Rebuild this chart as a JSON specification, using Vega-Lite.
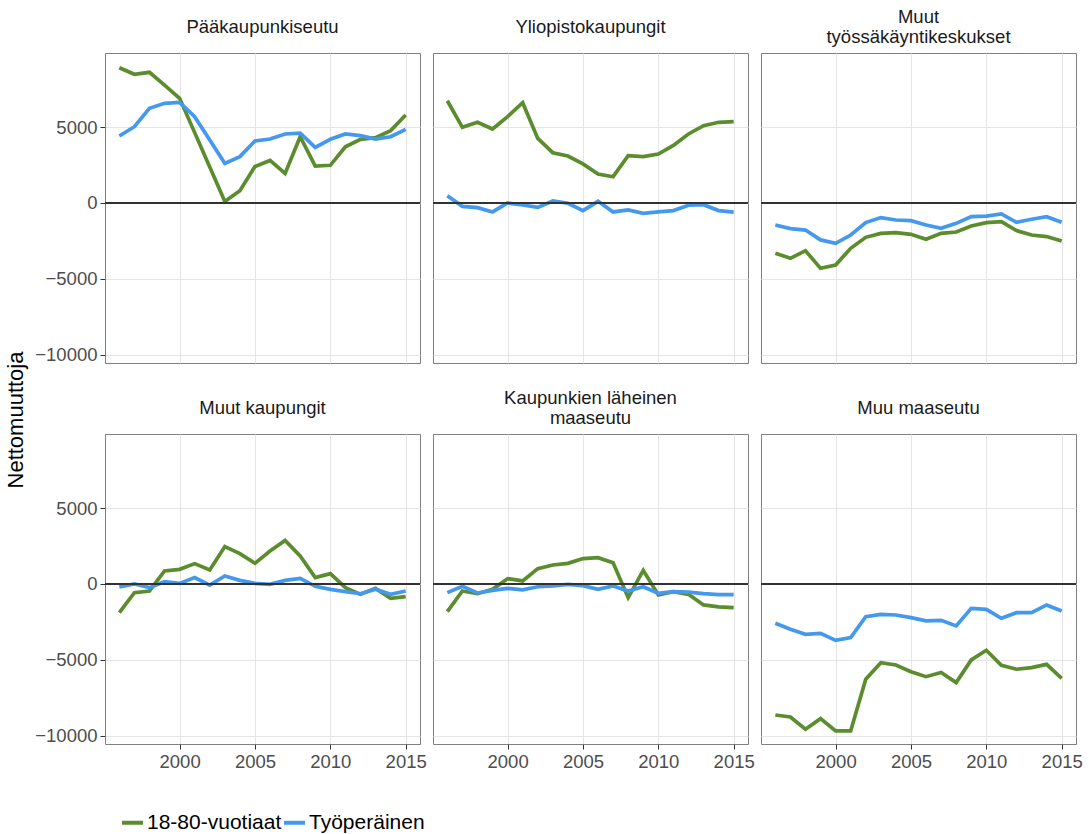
{
  "$schema": "https://vega.github.io/schema/vega-lite/v6.json",
  "background": "white",
  "padding": {"left": 5, "top": 7, "right": 5, "bottom": 5},
  "bounds": "flush",
  "title": {"text": "Nettomuuttoja", "orient": "left", "anchor": "middle", "fontSize": 22, "fontWeight": "normal", "font": "Liberation Sans", "color": "#000000", "offset": 6},
  "data": {"values": [
    {"alue": "Pääkaupunkiseutu", "vuosi": 1996, "18-80-vuotiaat": 8900, "Työperäinen": 4410},
    {"alue": "Pääkaupunkiseutu", "vuosi": 1997, "18-80-vuotiaat": 8470, "Työperäinen": 5020},
    {"alue": "Pääkaupunkiseutu", "vuosi": 1998, "18-80-vuotiaat": 8600, "Työperäinen": 6230},
    {"alue": "Pääkaupunkiseutu", "vuosi": 1999, "18-80-vuotiaat": 7760, "Työperäinen": 6560},
    {"alue": "Pääkaupunkiseutu", "vuosi": 2000, "18-80-vuotiaat": 6890, "Työperäinen": 6620},
    {"alue": "Pääkaupunkiseutu", "vuosi": 2001, "18-80-vuotiaat": 4630, "Työperäinen": 5680},
    {"alue": "Pääkaupunkiseutu", "vuosi": 2002, "18-80-vuotiaat": 2370, "Työperäinen": 4140},
    {"alue": "Pääkaupunkiseutu", "vuosi": 2003, "18-80-vuotiaat": 100, "Työperäinen": 2610},
    {"alue": "Pääkaupunkiseutu", "vuosi": 2004, "18-80-vuotiaat": 800, "Työperäinen": 3050},
    {"alue": "Pääkaupunkiseutu", "vuosi": 2005, "18-80-vuotiaat": 2400, "Työperäinen": 4080},
    {"alue": "Pääkaupunkiseutu", "vuosi": 2006, "18-80-vuotiaat": 2800, "Työperäinen": 4210},
    {"alue": "Pääkaupunkiseutu", "vuosi": 2007, "18-80-vuotiaat": 1950, "Työperäinen": 4540},
    {"alue": "Pääkaupunkiseutu", "vuosi": 2008, "18-80-vuotiaat": 4360, "Työperäinen": 4600},
    {"alue": "Pääkaupunkiseutu", "vuosi": 2009, "18-80-vuotiaat": 2430, "Työperäinen": 3660},
    {"alue": "Pääkaupunkiseutu", "vuosi": 2010, "18-80-vuotiaat": 2480, "Työperäinen": 4190},
    {"alue": "Pääkaupunkiseutu", "vuosi": 2011, "18-80-vuotiaat": 3700, "Työperäinen": 4540},
    {"alue": "Pääkaupunkiseutu", "vuosi": 2012, "18-80-vuotiaat": 4190, "Työperäinen": 4430},
    {"alue": "Pääkaupunkiseutu", "vuosi": 2013, "18-80-vuotiaat": 4300, "Työperäinen": 4210},
    {"alue": "Pääkaupunkiseutu", "vuosi": 2014, "18-80-vuotiaat": 4760, "Työperäinen": 4360},
    {"alue": "Pääkaupunkiseutu", "vuosi": 2015, "18-80-vuotiaat": 5790, "Työperäinen": 4850},
    {"alue": "Yliopistokaupungit", "vuosi": 1996, "18-80-vuotiaat": 6730, "Työperäinen": 480},
    {"alue": "Yliopistokaupungit", "vuosi": 1997, "18-80-vuotiaat": 4980, "Työperäinen": -220},
    {"alue": "Yliopistokaupungit", "vuosi": 1998, "18-80-vuotiaat": 5310, "Työperäinen": -310},
    {"alue": "Yliopistokaupungit", "vuosi": 1999, "18-80-vuotiaat": 4870, "Työperäinen": -590},
    {"alue": "Yliopistokaupungit", "vuosi": 2000, "18-80-vuotiaat": 5680, "Työperäinen": 0},
    {"alue": "Yliopistokaupungit", "vuosi": 2001, "18-80-vuotiaat": 6600, "Työperäinen": -130},
    {"alue": "Yliopistokaupungit", "vuosi": 2002, "18-80-vuotiaat": 4250, "Työperäinen": -290},
    {"alue": "Yliopistokaupungit", "vuosi": 2003, "18-80-vuotiaat": 3310, "Työperäinen": 130},
    {"alue": "Yliopistokaupungit", "vuosi": 2004, "18-80-vuotiaat": 3090, "Työperäinen": -20},
    {"alue": "Yliopistokaupungit", "vuosi": 2005, "18-80-vuotiaat": 2570, "Työperäinen": -500},
    {"alue": "Yliopistokaupungit", "vuosi": 2006, "18-80-vuotiaat": 1910, "Työperäinen": 110},
    {"alue": "Yliopistokaupungit", "vuosi": 2007, "18-80-vuotiaat": 1730, "Työperäinen": -590},
    {"alue": "Yliopistokaupungit", "vuosi": 2008, "18-80-vuotiaat": 3110, "Työperäinen": -460},
    {"alue": "Yliopistokaupungit", "vuosi": 2009, "18-80-vuotiaat": 3050, "Työperäinen": -680},
    {"alue": "Yliopistokaupungit", "vuosi": 2010, "18-80-vuotiaat": 3220, "Työperäinen": -590},
    {"alue": "Yliopistokaupungit", "vuosi": 2011, "18-80-vuotiaat": 3790, "Työperäinen": -500},
    {"alue": "Yliopistokaupungit", "vuosi": 2012, "18-80-vuotiaat": 4540, "Työperäinen": -150},
    {"alue": "Yliopistokaupungit", "vuosi": 2013, "18-80-vuotiaat": 5090, "Työperäinen": -110},
    {"alue": "Yliopistokaupungit", "vuosi": 2014, "18-80-vuotiaat": 5310, "Työperäinen": -500},
    {"alue": "Yliopistokaupungit", "vuosi": 2015, "18-80-vuotiaat": 5350, "Työperäinen": -600},
    {"alue": "Muut työssäkäyntikeskukset", "vuosi": 1996, "18-80-vuotiaat": -3310, "Työperäinen": -1450},
    {"alue": "Muut työssäkäyntikeskukset", "vuosi": 1997, "18-80-vuotiaat": -3640, "Työperäinen": -1690},
    {"alue": "Muut työssäkäyntikeskukset", "vuosi": 1998, "18-80-vuotiaat": -3140, "Työperäinen": -1780},
    {"alue": "Muut työssäkäyntikeskukset", "vuosi": 1999, "18-80-vuotiaat": -4300, "Työperäinen": -2430},
    {"alue": "Muut työssäkäyntikeskukset", "vuosi": 2000, "18-80-vuotiaat": -4080, "Työperäinen": -2650},
    {"alue": "Muut työssäkäyntikeskukset", "vuosi": 2001, "18-80-vuotiaat": -2980, "Työperäinen": -2110},
    {"alue": "Muut työssäkäyntikeskukset", "vuosi": 2002, "18-80-vuotiaat": -2260, "Työperäinen": -1290},
    {"alue": "Muut työssäkäyntikeskukset", "vuosi": 2003, "18-80-vuotiaat": -2000, "Työperäinen": -960},
    {"alue": "Muut työssäkäyntikeskukset", "vuosi": 2004, "18-80-vuotiaat": -1950, "Työperäinen": -1120},
    {"alue": "Muut työssäkäyntikeskukset", "vuosi": 2005, "18-80-vuotiaat": -2060, "Työperäinen": -1160},
    {"alue": "Muut työssäkäyntikeskukset", "vuosi": 2006, "18-80-vuotiaat": -2390, "Työperäinen": -1450},
    {"alue": "Muut työssäkäyntikeskukset", "vuosi": 2007, "18-80-vuotiaat": -2000, "Työperäinen": -1670},
    {"alue": "Muut työssäkäyntikeskukset", "vuosi": 2008, "18-80-vuotiaat": -1910, "Työperäinen": -1340},
    {"alue": "Muut työssäkäyntikeskukset", "vuosi": 2009, "18-80-vuotiaat": -1510, "Työperäinen": -900},
    {"alue": "Muut työssäkäyntikeskukset", "vuosi": 2010, "18-80-vuotiaat": -1290, "Työperäinen": -860},
    {"alue": "Muut työssäkäyntikeskukset", "vuosi": 2011, "18-80-vuotiaat": -1230, "Työperäinen": -720},
    {"alue": "Muut työssäkäyntikeskukset", "vuosi": 2012, "18-80-vuotiaat": -1820, "Työperäinen": -1270},
    {"alue": "Muut työssäkäyntikeskukset", "vuosi": 2013, "18-80-vuotiaat": -2110, "Työperäinen": -1070},
    {"alue": "Muut työssäkäyntikeskukset", "vuosi": 2014, "18-80-vuotiaat": -2210, "Työperäinen": -900},
    {"alue": "Muut työssäkäyntikeskukset", "vuosi": 2015, "18-80-vuotiaat": -2500, "Työperäinen": -1270},
    {"alue": "Muut kaupungit", "vuosi": 1996, "18-80-vuotiaat": -1890, "Työperäinen": -200},
    {"alue": "Muut kaupungit", "vuosi": 1997, "18-80-vuotiaat": -570, "Työperäinen": 0},
    {"alue": "Muut kaupungit", "vuosi": 1998, "18-80-vuotiaat": -460, "Työperäinen": -240},
    {"alue": "Muut kaupungit", "vuosi": 1999, "18-80-vuotiaat": 855, "Työperäinen": 150},
    {"alue": "Muut kaupungit", "vuosi": 2000, "18-80-vuotiaat": 965, "Työperäinen": 40},
    {"alue": "Muut kaupungit", "vuosi": 2001, "18-80-vuotiaat": 1340, "Työperäinen": 420},
    {"alue": "Muut kaupungit", "vuosi": 2002, "18-80-vuotiaat": 920, "Työperäinen": -70},
    {"alue": "Muut kaupungit", "vuosi": 2003, "18-80-vuotiaat": 2460, "Työperäinen": 530},
    {"alue": "Muut kaupungit", "vuosi": 2004, "18-80-vuotiaat": 2000, "Työperäinen": 240},
    {"alue": "Muut kaupungit", "vuosi": 2005, "18-80-vuotiaat": 1360, "Työperäinen": 40},
    {"alue": "Muut kaupungit", "vuosi": 2006, "18-80-vuotiaat": 2170, "Työperäinen": -20},
    {"alue": "Muut kaupungit", "vuosi": 2007, "18-80-vuotiaat": 2870, "Työperäinen": 240},
    {"alue": "Muut kaupungit", "vuosi": 2008, "18-80-vuotiaat": 1840, "Työperäinen": 370},
    {"alue": "Muut kaupungit", "vuosi": 2009, "18-80-vuotiaat": 420, "Työperäinen": -150},
    {"alue": "Muut kaupungit", "vuosi": 2010, "18-80-vuotiaat": 680, "Työperäinen": -350},
    {"alue": "Muut kaupungit", "vuosi": 2011, "18-80-vuotiaat": -240, "Työperäinen": -500},
    {"alue": "Muut kaupungit", "vuosi": 2012, "18-80-vuotiaat": -680, "Työperäinen": -640},
    {"alue": "Muut kaupungit", "vuosi": 2013, "18-80-vuotiaat": -290, "Työperäinen": -350},
    {"alue": "Muut kaupungit", "vuosi": 2014, "18-80-vuotiaat": -940, "Työperäinen": -680},
    {"alue": "Muut kaupungit", "vuosi": 2015, "18-80-vuotiaat": -830, "Työperäinen": -460},
    {"alue": "Kaupunkien läheinen maaseutu", "vuosi": 1996, "18-80-vuotiaat": -1820, "Työperäinen": -570},
    {"alue": "Kaupunkien läheinen maaseutu", "vuosi": 1997, "18-80-vuotiaat": -460, "Työperäinen": -150},
    {"alue": "Kaupunkien läheinen maaseutu", "vuosi": 1998, "18-80-vuotiaat": -640, "Työperäinen": -590},
    {"alue": "Kaupunkien läheinen maaseutu", "vuosi": 1999, "18-80-vuotiaat": -350, "Työperäinen": -420},
    {"alue": "Kaupunkien läheinen maaseutu", "vuosi": 2000, "18-80-vuotiaat": 350, "Työperäinen": -290},
    {"alue": "Kaupunkien läheinen maaseutu", "vuosi": 2001, "18-80-vuotiaat": 200, "Työperäinen": -390},
    {"alue": "Kaupunkien läheinen maaseutu", "vuosi": 2002, "18-80-vuotiaat": 1010, "Työperäinen": -180},
    {"alue": "Kaupunkien läheinen maaseutu", "vuosi": 2003, "18-80-vuotiaat": 1250, "Työperäinen": -130},
    {"alue": "Kaupunkien läheinen maaseutu", "vuosi": 2004, "18-80-vuotiaat": 1360, "Työperäinen": -20},
    {"alue": "Kaupunkien läheinen maaseutu", "vuosi": 2005, "18-80-vuotiaat": 1670, "Työperäinen": -110},
    {"alue": "Kaupunkien läheinen maaseutu", "vuosi": 2006, "18-80-vuotiaat": 1730, "Työperäinen": -350},
    {"alue": "Kaupunkien läheinen maaseutu", "vuosi": 2007, "18-80-vuotiaat": 1400, "Työperäinen": -130},
    {"alue": "Kaupunkien läheinen maaseutu", "vuosi": 2008, "18-80-vuotiaat": -900, "Työperäinen": -460},
    {"alue": "Kaupunkien läheinen maaseutu", "vuosi": 2009, "18-80-vuotiaat": 900, "Työperäinen": -180},
    {"alue": "Kaupunkien läheinen maaseutu", "vuosi": 2010, "18-80-vuotiaat": -720, "Työperäinen": -610},
    {"alue": "Kaupunkien läheinen maaseutu", "vuosi": 2011, "18-80-vuotiaat": -500, "Työperäinen": -500},
    {"alue": "Kaupunkien läheinen maaseutu", "vuosi": 2012, "18-80-vuotiaat": -680, "Työperäinen": -530},
    {"alue": "Kaupunkien läheinen maaseutu", "vuosi": 2013, "18-80-vuotiaat": -1380, "Työperäinen": -640},
    {"alue": "Kaupunkien läheinen maaseutu", "vuosi": 2014, "18-80-vuotiaat": -1510, "Työperäinen": -700},
    {"alue": "Kaupunkien läheinen maaseutu", "vuosi": 2015, "18-80-vuotiaat": -1560, "Työperäinen": -700},
    {"alue": "Muu maaseutu", "vuosi": 1996, "18-80-vuotiaat": -8620, "Työperäinen": -2590},
    {"alue": "Muu maaseutu", "vuosi": 1997, "18-80-vuotiaat": -8750, "Työperäinen": -2980},
    {"alue": "Muu maaseutu", "vuosi": 1998, "18-80-vuotiaat": -9560, "Työperäinen": -3310},
    {"alue": "Muu maaseutu", "vuosi": 1999, "18-80-vuotiaat": -8860, "Työperäinen": -3250},
    {"alue": "Muu maaseutu", "vuosi": 2000, "18-80-vuotiaat": -9670, "Työperäinen": -3710},
    {"alue": "Muu maaseutu", "vuosi": 2001, "18-80-vuotiaat": -9670, "Työperäinen": -3530},
    {"alue": "Muu maaseutu", "vuosi": 2002, "18-80-vuotiaat": -6270, "Työperäinen": -2150},
    {"alue": "Muu maaseutu", "vuosi": 2003, "18-80-vuotiaat": -5180, "Työperäinen": -2000},
    {"alue": "Muu maaseutu", "vuosi": 2004, "18-80-vuotiaat": -5330, "Työperäinen": -2040},
    {"alue": "Muu maaseutu", "vuosi": 2005, "18-80-vuotiaat": -5770, "Työperäinen": -2210},
    {"alue": "Muu maaseutu", "vuosi": 2006, "18-80-vuotiaat": -6100, "Työperäinen": -2430},
    {"alue": "Muu maaseutu", "vuosi": 2007, "18-80-vuotiaat": -5830, "Työperäinen": -2390},
    {"alue": "Muu maaseutu", "vuosi": 2008, "18-80-vuotiaat": -6490, "Työperäinen": -2760},
    {"alue": "Muu maaseutu", "vuosi": 2009, "18-80-vuotiaat": -5000, "Työperäinen": -1600},
    {"alue": "Muu maaseutu", "vuosi": 2010, "18-80-vuotiaat": -4360, "Työperäinen": -1670},
    {"alue": "Muu maaseutu", "vuosi": 2011, "18-80-vuotiaat": -5350, "Työperäinen": -2260},
    {"alue": "Muu maaseutu", "vuosi": 2012, "18-80-vuotiaat": -5610, "Työperäinen": -1890},
    {"alue": "Muu maaseutu", "vuosi": 2013, "18-80-vuotiaat": -5500, "Työperäinen": -1890},
    {"alue": "Muu maaseutu", "vuosi": 2014, "18-80-vuotiaat": -5290, "Työperäinen": -1380},
    {"alue": "Muu maaseutu", "vuosi": 2015, "18-80-vuotiaat": -6210, "Työperäinen": -1780}
  ]},
  "transform": [{"fold": ["18-80-vuotiaat", "Työperäinen"], "as": ["ryhma", "arvo"]}],
  "columns": 3,
  "spacing": {"row": 71, "column": 13},
  "resolve": {"scale": {"color": "shared"}, "legend": {"color": "shared"}},
  "concat": [
    {
      "title": {"text": "Pääkaupunkiseutu", "offset": 17},
      "width": 315, "height": 310,
      "transform": [{"filter": "datum.alue == 'Pääkaupunkiseutu'"}],
      "layer": [
        {"mark": {"type": "line", "strokeWidth": 3.7},
         "encoding": {
           "x": {"field": "vuosi", "type": "quantitative", "scale": {"domain": [1995.05, 2015.95], "nice": false, "zero": false}, "axis": {"title": null, "values": [2000, 2005, 2010, 2015], "labels": false, "ticks": false}},
           "y": {"field": "arvo", "type": "quantitative", "scale": {"domain": [-10530, 9870], "nice": false}, "axis": {"title": null, "values": [-10000, -5000, 0, 5000], "format": "d"}},
           "color": {"field": "ryhma", "type": "nominal", "scale": {"domain": ["18-80-vuotiaat", "Työperäinen"], "range": ["#5B8C2E", "#4499EE"]},
                     "legend": {"title": null, "orient": "none", "legendX": 15, "legendY": 757, "direction": "horizontal", "symbolType": "stroke", "symbolStrokeWidth": 4, "symbolSize": 441, "labelFontSize": 21, "labelFont": "Liberation Sans", "labelColor": "#000000", "columnPadding": -12, "labelOffset": 2}}}},
        {"mark": {"type": "rule", "color": "#333333", "strokeWidth": 1.5}, "encoding": {"y": {"datum": 0, "type": "quantitative"}}}
      ]
    },
    {
      "title": {"text": "Yliopistokaupungit", "offset": 17},
      "width": 315, "height": 310,
      "transform": [{"filter": "datum.alue == 'Yliopistokaupungit'"}],
      "layer": [
        {"mark": {"type": "line", "strokeWidth": 3.7},
         "encoding": {
           "x": {"field": "vuosi", "type": "quantitative", "scale": {"domain": [1995.05, 2015.95], "nice": false, "zero": false}, "axis": {"title": null, "values": [2000, 2005, 2010, 2015], "labels": false, "ticks": false}},
           "y": {"field": "arvo", "type": "quantitative", "scale": {"domain": [-10530, 9870], "nice": false}, "axis": {"title": null, "values": [-10000, -5000, 0, 5000], "labels": false, "ticks": false}},
           "color": {"field": "ryhma", "type": "nominal", "scale": {"domain": ["18-80-vuotiaat", "Työperäinen"], "range": ["#5B8C2E", "#4499EE"]}}}},
        {"mark": {"type": "rule", "color": "#333333", "strokeWidth": 1.5}, "encoding": {"y": {"datum": 0, "type": "quantitative"}}}
      ]
    },
    {
      "title": {"text": ["Muut", "työssäkäyntikeskukset"], "offset": 7},
      "width": 315, "height": 310,
      "transform": [{"filter": "datum.alue == 'Muut työssäkäyntikeskukset'"}],
      "layer": [
        {"mark": {"type": "line", "strokeWidth": 3.7},
         "encoding": {
           "x": {"field": "vuosi", "type": "quantitative", "scale": {"domain": [1995.05, 2015.95], "nice": false, "zero": false}, "axis": {"title": null, "values": [2000, 2005, 2010, 2015], "labels": false, "ticks": false}},
           "y": {"field": "arvo", "type": "quantitative", "scale": {"domain": [-10530, 9870], "nice": false}, "axis": {"title": null, "values": [-10000, -5000, 0, 5000], "labels": false, "ticks": false}},
           "color": {"field": "ryhma", "type": "nominal", "scale": {"domain": ["18-80-vuotiaat", "Työperäinen"], "range": ["#5B8C2E", "#4499EE"]}}}},
        {"mark": {"type": "rule", "color": "#333333", "strokeWidth": 1.5}, "encoding": {"y": {"datum": 0, "type": "quantitative"}}}
      ]
    },
    {
      "title": {"text": "Muut kaupungit", "offset": 17},
      "width": 315, "height": 310,
      "transform": [{"filter": "datum.alue == 'Muut kaupungit'"}],
      "layer": [
        {"mark": {"type": "line", "strokeWidth": 3.7},
         "encoding": {
           "x": {"field": "vuosi", "type": "quantitative", "scale": {"domain": [1995.05, 2015.95], "nice": false, "zero": false}, "axis": {"title": null, "values": [2000, 2005, 2010, 2015], "format": "d"}},
           "y": {"field": "arvo", "type": "quantitative", "scale": {"domain": [-10530, 9870], "nice": false}, "axis": {"title": null, "values": [-10000, -5000, 0, 5000], "format": "d"}},
           "color": {"field": "ryhma", "type": "nominal", "scale": {"domain": ["18-80-vuotiaat", "Työperäinen"], "range": ["#5B8C2E", "#4499EE"]}}}},
        {"mark": {"type": "rule", "color": "#333333", "strokeWidth": 1.5}, "encoding": {"y": {"datum": 0, "type": "quantitative"}}}
      ]
    },
    {
      "title": {"text": ["Kaupunkien läheinen", "maaseutu"], "offset": 7},
      "width": 315, "height": 310,
      "transform": [{"filter": "datum.alue == 'Kaupunkien läheinen maaseutu'"}],
      "layer": [
        {"mark": {"type": "line", "strokeWidth": 3.7},
         "encoding": {
           "x": {"field": "vuosi", "type": "quantitative", "scale": {"domain": [1995.05, 2015.95], "nice": false, "zero": false}, "axis": {"title": null, "values": [2000, 2005, 2010, 2015], "format": "d"}},
           "y": {"field": "arvo", "type": "quantitative", "scale": {"domain": [-10530, 9870], "nice": false}, "axis": {"title": null, "values": [-10000, -5000, 0, 5000], "labels": false, "ticks": false}},
           "color": {"field": "ryhma", "type": "nominal", "scale": {"domain": ["18-80-vuotiaat", "Työperäinen"], "range": ["#5B8C2E", "#4499EE"]}}}},
        {"mark": {"type": "rule", "color": "#333333", "strokeWidth": 1.5}, "encoding": {"y": {"datum": 0, "type": "quantitative"}}}
      ]
    },
    {
      "title": {"text": "Muu maaseutu", "offset": 17},
      "width": 315, "height": 310,
      "transform": [{"filter": "datum.alue == 'Muu maaseutu'"}],
      "layer": [
        {"mark": {"type": "line", "strokeWidth": 3.7},
         "encoding": {
           "x": {"field": "vuosi", "type": "quantitative", "scale": {"domain": [1995.05, 2015.95], "nice": false, "zero": false}, "axis": {"title": null, "values": [2000, 2005, 2010, 2015], "format": "d"}},
           "y": {"field": "arvo", "type": "quantitative", "scale": {"domain": [-10530, 9870], "nice": false}, "axis": {"title": null, "values": [-10000, -5000, 0, 5000], "labels": false, "ticks": false}},
           "color": {"field": "ryhma", "type": "nominal", "scale": {"domain": ["18-80-vuotiaat", "Työperäinen"], "range": ["#5B8C2E", "#4499EE"]}}}},
        {"mark": {"type": "rule", "color": "#333333", "strokeWidth": 1.5}, "encoding": {"y": {"datum": 0, "type": "quantitative"}}}
      ]
    }
  ],
  "config": {
    "font": "Liberation Sans",
    "view": {"stroke": "#7f7f7f", "strokeWidth": 1},
    "title": {"fontSize": 18.5, "fontWeight": "normal", "color": "#1a1a1a", "font": "Liberation Sans", "anchor": "middle", "lineHeight": 20},
    "axis": {
      "domain": false,
      "grid": true,
      "gridColor": "#e5e5e5",
      "gridWidth": 1,
      "tickColor": "#333333",
      "tickSize": 5,
      "labelFontSize": 18.5,
      "labelColor": "#4d4d4d",
      "labelFont": "Liberation Sans",
      "labelPadding": 3
    }
  }
}
